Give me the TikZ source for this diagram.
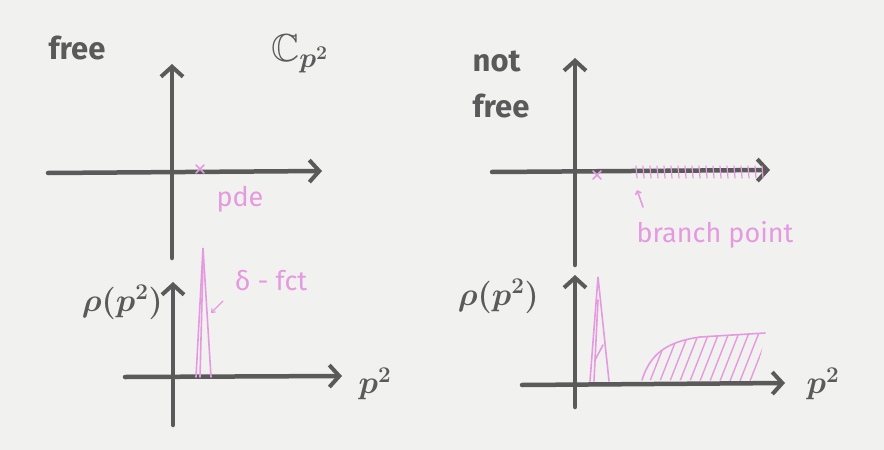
\documentclass[tikz,border=0pt]{standalone}
\usepackage{amssymb}
\usepackage{fontspec}
\setmainfont{Fira Sans}
\usetikzlibrary{arrows.meta,calc}
\definecolor{paper}{HTML}{F1F1F0}
\definecolor{ink}{HTML}{5A5A5A}
\definecolor{pinkink}{HTML}{E59AE0}
\tikzset{
  axis/.style={draw=ink, line width=4.5pt, line cap=round, -{Straight Barb[length=10pt,width=22pt,line width=4pt]}},
  lbl/.style={text=ink, font=\fontsize{31}{46}\selectfont\bfseries, inner sep=0pt},
  mlbl/.style={text=ink, font=\fontsize{24}{26}\selectfont\boldmath, inner sep=0pt, scale=1.3},
  plbl/.style={text=pinkink, font=\fontsize{27}{30}\selectfont, inner sep=0pt},
  pline/.style={draw=pinkink, line width=1.6pt, line cap=round},
}
\begin{document}
\begin{tikzpicture}[x=1pt,y=-1pt]
\fill[paper] (0,0) rectangle (884,450);
\useasboundingbox (0,0) rectangle (884,450);

% ---------- left top: free ----------
\coordinate (ltvB) at (172,258);
\coordinate (ltvT) at (172,64);
\coordinate (lthL) at (48,173);
\coordinate (lthR) at (322,171);
\draw[axis] (ltvB) -- (ltvT);
\draw[axis] (lthL) -- (lthR);
\node[lbl] (free1) at (77,48) {free};
\node[mlbl, scale=1.25] (cp) at (300,54) {$\mathbb{C}_{p^2}$};
\coordinate (pole1) at (200,169);
\draw[pline] ($(pole1)+(-4,-4)$) -- ($(pole1)+(4,4)$) ($(pole1)+(-4,4)$) -- ($(pole1)+(4,-4)$);
\node[plbl] (pde) at (240,199) {pde};

% ---------- left bottom ----------
\coordinate (lbvB) at (173,425);
\coordinate (lbvT) at (173,282);
\coordinate (lbhL) at (125,377);
\coordinate (lbhR) at (342,376);
\draw[axis] (lbvB) -- (lbvT);
\draw[axis] (lbhL) -- (lbhR);
\node[mlbl, anchor=east] (rho1) at (163,302) {$\rho(p^2)$};
\node[mlbl] (p2a) at (375,384) {$p^2$};
\draw[pline] (196,377) -- (203,248) -- (211,377);
\draw[pline] (200,377) -- (203,262);
\node[plbl] (delta) at (271,281) {δ - fct};
\coordinate (da1) at (223,301);
\coordinate (da2) at (211,313);
\draw[pline, line width=1.2pt, -{Straight Barb[length=3pt,width=5pt]}] (da1) -- (da2);

% ---------- right top: not free ----------
\coordinate (rtvB) at (575,265);
\coordinate (rtvT) at (575,58);
\coordinate (rthL) at (492,172);
\coordinate (rthR) at (770,170);
\draw[axis] (rtvB) -- (rtvT);
\draw[axis] (rthL) -- (rthR);
\node[lbl, align=left] (free2) at (501,84) {not\\free};
\coordinate (pole2) at (597,175);
\draw[pline] ($(pole2)+(-4,-4)$) -- ($(pole2)+(4,4)$) ($(pole2)+(-4,4)$) -- ($(pole2)+(4,-4)$);
\foreach \x in {636,643,...,766} {
  \draw[pline, line width=1.2pt] (\x,166) -- (\x+1,178);
}
\coordinate (ba1) at (643,207);
\coordinate (ba2) at (637,190);
\draw[pline, -{Straight Barb[length=3pt,width=6pt]}] (ba1) -- (ba2);
\node[plbl] (branch) at (715,235) {branch point};

% ---------- right bottom ----------
\coordinate (rbvB) at (575,407);
\coordinate (rbvT) at (575,275);
\coordinate (rbhL) at (522,385);
\coordinate (rbhR) at (785,383);
\draw[axis] (rbvB) -- (rbvT);
\draw[axis] (rbhL) -- (rbhR);
\node[mlbl, anchor=east] (rho2) at (539,296) {$\rho(p^2)$};
\node[mlbl] (p2b) at (823,384) {$p^2$};
\draw[pline] (590,381) -- (598,277) -- (609,381);
\draw[pline] (594,381) -- (598,300);
\draw[pline] (595,360) -- (603,345);
% continuum
\draw[pline] (642,380) .. controls (650,355) and (665,342) .. (700,337) -- (765,333);
\begin{scope}
  \clip (642,380) .. controls (650,355) and (665,342) .. (700,337) -- (765,333) -- (756,381) -- cycle;
  \foreach \x in {630,640,...,780} {
    \draw[pline, line width=1.4pt] (\x,381) -- (\x+22,325);
  }
\end{scope}
\end{tikzpicture}
\end{document}
